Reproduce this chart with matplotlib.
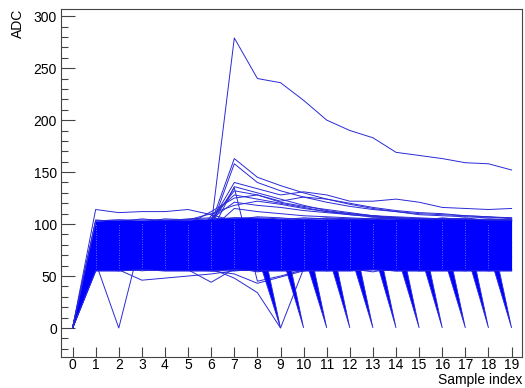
import matplotlib
matplotlib.use('Agg')
import matplotlib.pyplot as plt
from matplotlib.ticker import MultipleLocator

plt.rcParams['font.family'] = ['Liberation Sans', 'DejaVu Sans']

samples = list(range(20))

# envelope of the bulk of the pulses (dense band)
band_low = [0, 55, 55, 56, 55, 55, 55, 56, 55, 55, 55, 55, 55, 56, 55, 55, 55, 55, 55, 55]
band_high = [0, 103, 104, 104, 104, 104, 105, 106, 106, 105, 105, 105, 105, 105, 105, 105, 105, 105, 104, 104]

# pulses that stop early: last sample is 0
drop_samples = [9, 10, 11, 12, 13, 14, 15, 16, 17, 18, 19]
drop_low = [70, 74, 72, 75, 73, 76, 74, 75, 73, 76, 74]
drop_high = [104, 105, 104, 105, 105, 104, 105, 105, 104, 105, 104]

# individual pulses
traces = [
    [0, 78, 82, 80, 84, 86, 98, 279, 240, 236, 219, 200, 190, 183, 169, 166, 163, 159, 158, 152],
    [0, 114, 111, 112, 112, 114, 109, 103, 98, 96, 95, 94, 95, 96, 94, 95, 93, 94, 95, 96],
    [0, 85, 88, 90, 92, 95, 101, 163, 145, 137, 130, 124, 120, 116, 113, 111, 110, 108, 107, 106],
    [0, 80, 84, 86, 88, 90, 97, 158, 140, 132, 126, 121, 117, 114, 112, 110, 109, 108, 107, 105],
    [0, 90, 92, 93, 95, 96, 102, 140, 134, 128, 131, 128, 122, 122, 124, 121, 116, 115, 114, 115],
    [0, 75, 78, 80, 82, 85, 92, 136, 130, 124, 118, 113, 110, 108, 106, 105, 104, 104, 103, 103],
    [0, 95, 96, 97, 97, 98, 104, 132, 128, 122, 126, 124, 119, 115, 112, 109, 108, 107, 106, 106],
    [0, 70, 72, 74, 76, 80, 108, 128, 124, 120, 116, 112, 109, 107, 105, 104, 103, 103, 104, 103],
    [0, 88, 90, 92, 95, 100, 112, 125, 128, 121, 117, 114, 111, 108, 106, 105, 105, 104, 104, 103],
    [0, 82, 85, 88, 90, 94, 105, 121, 118, 116, 113, 111, 109, 107, 106, 105, 104, 104, 103, 104],
    [0, 98, 100, 102, 103, 104, 110, 118, 122, 119, 115, 112, 110, 108, 107, 106, 105, 105, 104, 104],
    [0, 60, 62, 65, 70, 76, 95, 115, 112, 110, 108, 107, 106, 105, 105, 104, 104, 103, 104, 103],
    [0, 92, 94, 95, 96, 97, 100, 135, 45, 50, 56, 60, 62, 64, 66, 68, 70, 72, 74, 76],
    [0, 62, 60, 58, 57, 56, 57, 48, 34, 0, 57, 60, 62, 63, 64, 65, 66, 67, 68, 69],
    [0, 65, 62, 60, 58, 56, 44, 57, 60, 62, 64, 66, 68, 70, 72, 74, 76, 78, 80, 82],
    [0, 58, 56, 46, 48, 50, 52, 55, 56, 58, 60, 62, 64, 66, 68, 70, 72, 74, 76, 78],
    [0, 63, 0, 88, 90, 92, 93, 94, 95, 96, 97, 98, 99, 100, 99, 98, 97, 96, 95, 94],
    [0, 62, 60, 58, 57, 56, 55, 52, 43, 49, 55, 58, 60, 61, 62, 63, 64, 65, 66, 67],
    [0, 56, 58, 55, 57, 56, 60, 55, 57, 56, 55, 58, 56, 57, 55, 56, 57, 55, 58, 56],
    [0, 103, 104, 102, 105, 104, 103, 106, 105, 104, 106, 105, 104, 106, 105, 103, 106, 104, 105, 104],
    [0, 57, 55, 58, 56, 59, 55, 58, 54, 57, 58, 55, 57, 54, 58, 55, 56, 58, 55, 57],
    [0, 104, 102, 105, 103, 105, 106, 104, 107, 106, 104, 106, 105, 104, 106, 105, 104, 106, 103, 105],
]

blue = '#0000ff'
line_blue = '#2a2ad8'

fig = plt.figure(figsize=(5.25, 3.88), dpi=100)
ax = fig.add_axes([61 / 525, 1 - 357 / 388, 461 / 525, 348 / 388])

# individual pulses sit behind the solid band
for tr in traces:
    ax.plot(samples, tr, color=line_blue, lw=0.7, zorder=1)

# truncated pulses falling to zero (only the part below the band shows)
for s, lo, hi in zip(drop_samples, drop_low, drop_high):
    ax.fill([s - 1, s - 1, s], [lo, hi, 0], color=blue, lw=0.6, ec=line_blue, zorder=1.5)

# dense band of pulses
ax.fill_between(samples, band_low, band_high, color=blue, lw=0, zorder=2)
ax.plot(samples, band_low, color=line_blue, lw=0.7, zorder=2)
ax.plot(samples, band_high, color=line_blue, lw=0.7, zorder=2)

# light gaps where the pulses pass through each sample
ax.vlines(samples[1:], [v + 3 for v in band_low[1:]], [v - 3 for v in band_high[1:]],
          colors='white', linestyles=(0, (1, 2)), lw=0.6, alpha=0.55, zorder=3)

ax.set_xlim(-0.5, 19.45)
ax.set_ylim(-27.9, 306.9)
ax.set_xticks(samples)
ax.yaxis.set_major_locator(MultipleLocator(50))
ax.yaxis.set_minor_locator(MultipleLocator(10))
ax.tick_params(axis='y', which='major', direction='in', length=10, width=0.8, pad=3,
               labelsize=10, color='#444444')
ax.tick_params(axis='y', which='minor', direction='in', length=5, width=0.8, color='#444444')
ax.tick_params(axis='x', which='major', direction='in', length=7, width=0.8, pad=1,
               labelsize=10, color='#444444')
for sp in ax.spines.values():
    sp.set_color('#444444')
    sp.set_linewidth(0.8)

fig.text(18 / 525, 1 - 9 / 388, 'ADC', rotation=90, ha='center', va='top', fontsize=10)
fig.text(522 / 525, 1 - 384 / 388, 'Sample index', ha='right', va='baseline', fontsize=10)

fig.savefig('out.png', dpi=100)
